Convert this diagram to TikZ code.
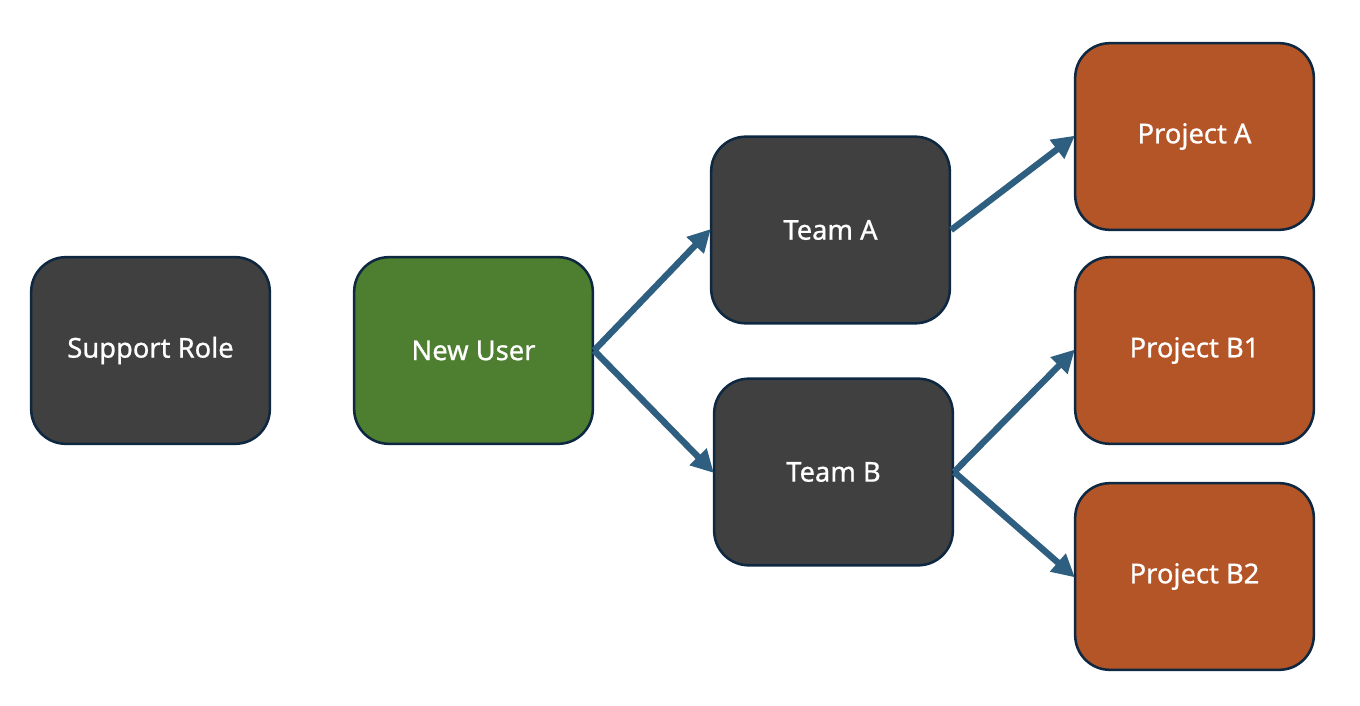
\documentclass[tikz,border=0pt]{standalone}
\usepackage{fontspec}
\setmainfont{Noto Sans}
\newfontfamily\boxfont[FakeBold=0.8]{Noto Sans}
\usetikzlibrary{arrows.meta}
\definecolor{boxborder}{HTML}{0E2841}
\definecolor{darkfill}{HTML}{404040}
\definecolor{greenfill}{HTML}{4E7E30}
\definecolor{orangefill}{HTML}{B35527}
\definecolor{arrowcol}{HTML}{2F5F80}
\begin{document}
\begin{tikzpicture}[x=0.75pt,y=-0.75pt,
  box/.style={draw=boxborder,line width=1.9pt,rounded corners=26pt,
    minimum width=179pt,minimum height=140pt,text=white,
    font=\boxfont\fontsize{20.5}{24}\selectfont},
  darkbox/.style={box,fill=darkfill},
  greenbox/.style={box,fill=greenfill},
  orangebox/.style={box,fill=orangefill},
  conn/.style={draw=arrowcol,line width=4.8pt,
    -{Triangle[length=17pt,width=17pt]},shorten >=-1pt}]
\useasboundingbox (0,0) rectangle (1360,706);
\node[darkbox] (support) at (150.5,350.5) {Support Role};
\node[greenbox] (newuser) at (473.5,350.5) {New User};
\node[darkbox] (teama) at (830.5,230) {Team A};
\node[darkbox] (teamb) at (833.5,472) {Team B};
\node[orangebox] (proja) at (1194.5,136.5) {Project A};
\node[orangebox] (projb1) at (1194.5,350.5) {Project B1};
\node[orangebox] (projb2) at (1194.5,576.5) {Project B2};
\draw[conn] (newuser.east) -- (teama.west);
\draw[conn] (newuser.east) -- (teamb.west);
\draw[conn] (teama.east) -- (proja.west);
\draw[conn] (teamb.east) -- (projb1.west);
\draw[conn] (teamb.east) -- (projb2.west);
\end{tikzpicture}
\end{document}
